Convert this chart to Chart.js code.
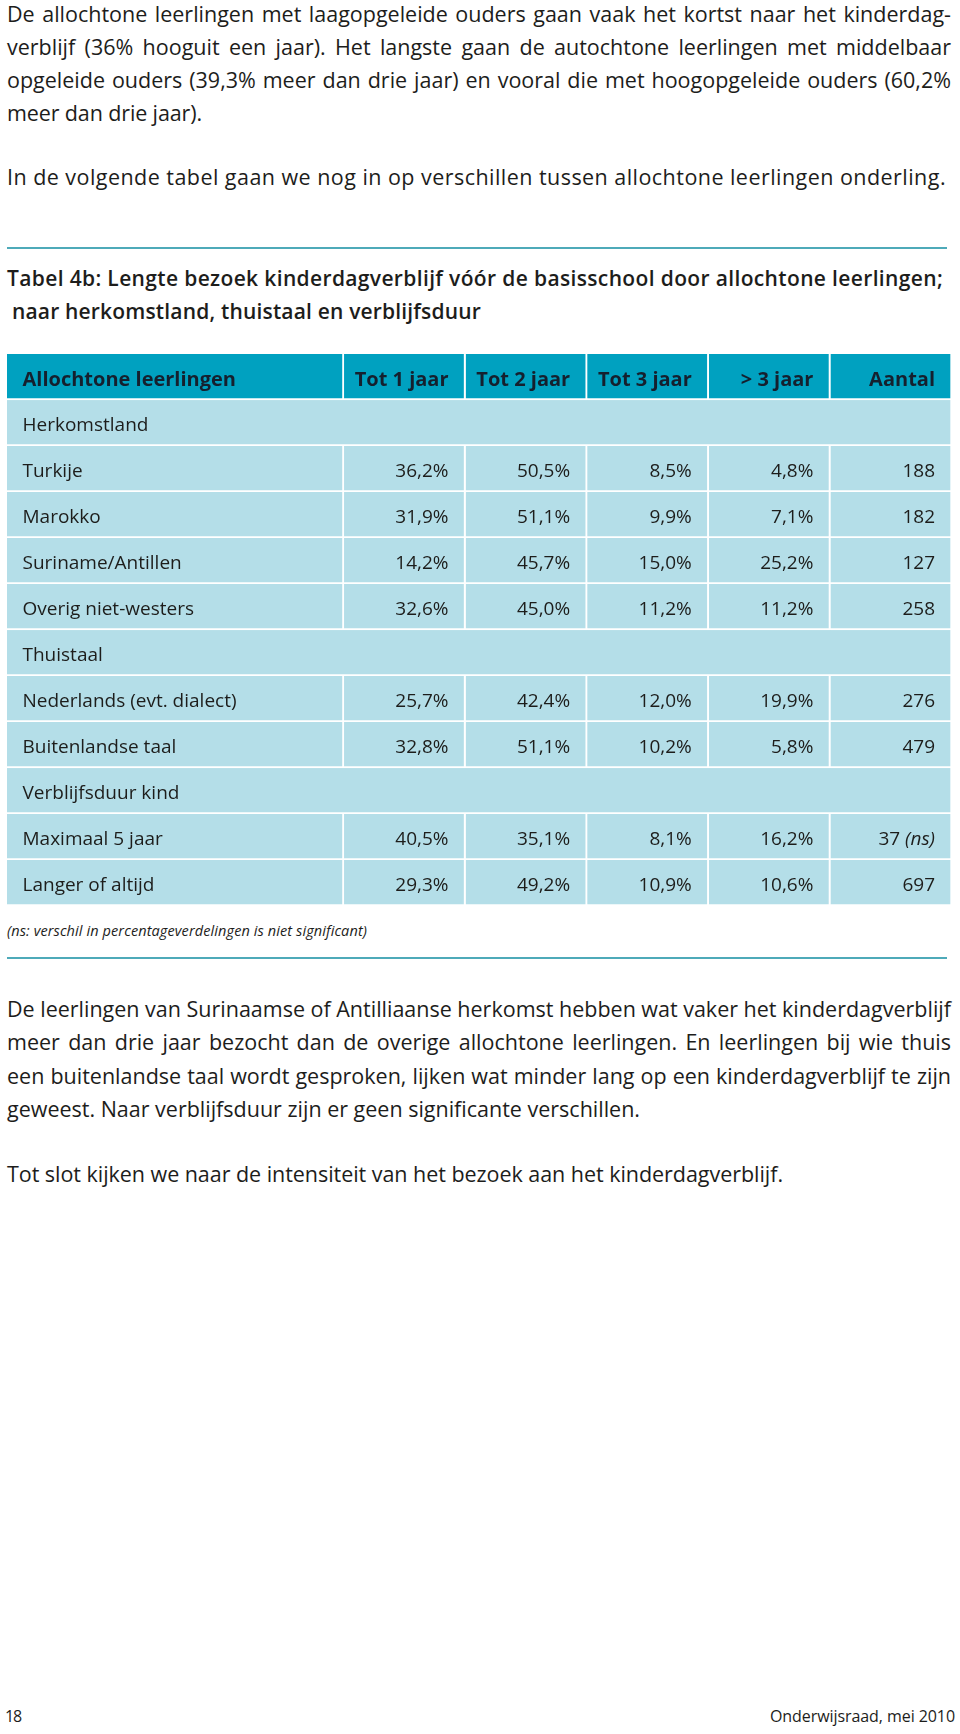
<!DOCTYPE html>
<html lang="nl">
<head>
<meta charset="utf-8">
<title>Tabel 4b</title>
<script src="https://cdn.jsdelivr.net/npm/chart.js@4.4.1/dist/chart.umd.min.js"></script>
<style>
  html, body { margin: 0; padding: 0; background: #fff; }
  body { position: relative; width: 960px; height: 1734px; overflow: hidden; font-family: "Open Sans", sans-serif; color: #1d1d1b; }
  .ln { position: absolute; white-space: nowrap; line-height: normal; display: inline-block; }
  .txt { font-size: 21.5px; }
  .ttl { font-size: 21px; font-weight: 600; }
  .note { font-size: 14.5px; font-style: italic; }
  .foot { font-size: 16px; }
  .rule { position: absolute; left: 7px; width: 940px; height: 2px; background: #4eaab9; }
  #tabel { position: absolute; left: 7px; top: 354px; width: 945px; height: 552px; }
</style>
</head>
<body>

<!-- alinea boven de tabel -->
<span class="ln txt" data-l="7" data-r="951" data-b="21.5" data-m="j">De allochtone leerlingen met laagopgeleide ouders gaan vaak het kortst naar het kinderdag-</span>
<span class="ln txt" data-l="7" data-r="951" data-b="54.8" data-m="j">verblijf (36% hooguit een jaar). Het langste gaan de autochtone leerlingen met middelbaar</span>
<span class="ln txt" data-l="7" data-r="951" data-b="88.1" data-m="j">opgeleide ouders (39,3% meer dan drie jaar) en vooral die met hoogopgeleide ouders (60,2%</span>
<span class="ln txt" data-l="7" data-r="202" data-b="121.4">meer dan drie jaar).</span>
<span class="ln txt" data-l="7" data-r="946" data-b="185">In de volgende tabel gaan we nog in op verschillen tussen allochtone leerlingen onderling.</span>

<div class="rule" style="top:247px"></div>

<span class="ln ttl" data-l="7" data-r="943" data-b="286">Tabel 4b: Lengte bezoek kinderdagverblijf vóór de basisschool door allochtone leerlingen;</span>
<span class="ln ttl" data-l="12" data-r="481" data-b="319">naar herkomstland, thuistaal en verblijfsduur</span>

<div id="tabel"><canvas id="tabelCanvas"></canvas></div>

<span class="ln note" data-l="7" data-r="367" data-b="937">(ns: verschil in percentageverdelingen is niet significant)</span>

<div class="rule" style="top:957px"></div>

<!-- alinea's onder de tabel -->
<span class="ln txt" data-l="7" data-r="951" data-b="1017" data-m="j">De leerlingen van Surinaamse of Antilliaanse herkomst hebben wat vaker het kinderdagverblijf</span>
<span class="ln txt" data-l="7" data-r="951" data-b="1050.3" data-m="j">meer dan drie jaar bezocht dan de overige allochtone leerlingen. En leerlingen bij wie thuis</span>
<span class="ln txt" data-l="7" data-r="951" data-b="1083.6" data-m="j">een buitenlandse taal wordt gesproken, lijken wat minder lang op een kinderdagverblijf te zijn</span>
<span class="ln txt" data-l="7" data-r="640" data-b="1117">geweest. Naar verblijfsduur zijn er geen significante verschillen.</span>
<span class="ln txt" data-l="7" data-r="783" data-b="1182">Tot slot kijken we naar de intensiteit van het bezoek aan het kinderdagverblijf.</span>

<span class="ln foot" data-l="5" data-r="21" data-b="1722">18</span>
<span class="ln foot" data-l="770" data-r="955" data-b="1722">Onderwijsraad, mei 2010</span>

<script>
// Gegevens tabel 4b
const columnLabels = ['Allochtone leerlingen', 'Tot 1 jaar', 'Tot 2 jaar', 'Tot 3 jaar', '> 3 jaar', 'Aantal']
const rowLabels = ['Herkomstland', 'Turkije', 'Marokko', 'Suriname/Antillen', 'Overig niet-westers',
  'Thuistaal', 'Nederlands (evt. dialect)', 'Buitenlandse taal',
  'Verblijfsduur kind', 'Maximaal 5 jaar', 'Langer of altijd']
const sectionRows = ['Herkomstland', 'Thuistaal', 'Verblijfsduur kind']
const tot1Jaar = [null, 36.2, 31.9, 14.2, 32.6, null, 25.7, 32.8, null, 40.5, 29.3]
const tot2Jaar = [null, 50.5, 51.1, 45.7, 45.0, null, 42.4, 51.1, null, 35.1, 49.2]
const tot3Jaar = [null, 8.5, 9.9, 15.0, 11.2, null, 12.0, 10.2, null, 8.1, 10.9]
const meerDan3Jaar = [null, 4.8, 7.1, 25.2, 11.2, null, 19.9, 5.8, null, 16.2, 10.6]
const aantal = [null, 188, 182, 127, 258, null, 276, 479, null, 37, 697]
const nietSignificant = ['Maximaal 5 jaar']

// Opmaak
const TEAL = '#00a1c0'
const LIGHT = '#b4dee8'
const INK = '#1d1d1b'
const HEAD_INK = '#15202e'
const colUnits = [2.77, 1, 1, 1, 1, 1]
const FONT = '"Open Sans", sans-serif'

// regels in de tekst uitvullen / passend maken
document.querySelectorAll('.ln').forEach(el => {
  const l = +el.dataset.l, r = +el.dataset.r, b = +el.dataset.b
  const fs = parseFloat(getComputedStyle(el).fontSize)
  const w = el.getBoundingClientRect().width
  const txt = el.textContent
  if (el.dataset.m === 'j') {
    const n = (txt.match(/ /g) || []).length
    el.style.wordSpacing = ((r - l - w) / n) + 'px'
  } else {
    el.style.letterSpacing = ((r - l - w) / txt.length) + 'px'
  }
  el.style.left = l + 'px'
  el.style.top = (b - 1.069 * fs) + 'px'
})

const allRows = [columnLabels[0], ...rowLabels]
const isSection = i => sectionRows.includes(allRows[i])
const edges = colUnits.reduce((acc, u) => { acc.push(acc[acc.length - 1] + u); return acc }, [0])
const xMax = edges[edges.length - 1]

const pct = v => v.toFixed(1).replace('.', ',') + '%'
function cellTexts(i) {
  if (i === 0) return columnLabels
  const k = i - 1
  if (isSection(i)) return [rowLabels[k]]
  return [rowLabels[k], pct(tot1Jaar[k]), pct(tot2Jaar[k]), pct(tot3Jaar[k]), pct(meerDan3Jaar[k]), String(aantal[k])]
}

const cellStyle = {
  barPercentage: 1,
  categoryPercentage: 1,
  grouped: false,
  borderSkipped: false,
  borderColor: '#ffffff',
  borderWidth: { top: 0, left: 0, right: 2, bottom: 2 },
  backgroundColor: ctx => ctx.dataIndex === 0 ? TEAL : LIGHT,
}

const datasets = columnLabels.map((c, j) => ({
  label: c,
  data: allRows.map((r, i) => isSection(i) ? null : [edges[j], edges[j + 1]]),
  ...cellStyle,
}))
datasets.push({
  label: 'sectie',
  data: allRows.map((r, i) => isSection(i) ? [0, xMax] : null),
  ...cellStyle,
})

const tableText = {
  id: 'tableText',
  afterDatasetsDraw(chart) {
    const { ctx, scales: { x, y } } = chart
    ctx.save()
    allRows.forEach((r, i) => {
      const texts = cellTexts(i)
      const head = i === 0
      const fs = head ? 20 : 19
      const base = y.getPixelForValue(i) + 0.36 * fs + 1.5
      ctx.fillStyle = head ? HEAD_INK : INK
      ctx.font = (head ? '700 ' : '400 ') + fs + 'px ' + FONT
      texts.forEach((t, j) => {
        if (j === 0) {
          ctx.textAlign = 'left'
          ctx.fillText(t, x.getPixelForValue(edges[0]) + 15.5, base)
          return
        }
        const right = x.getPixelForValue(edges[j + 1]) - 17
        ctx.textAlign = 'right'
        if (j === 5 && !head && nietSignificant.includes(allRows[i])) {
          ctx.font = 'italic 400 ' + fs + 'px ' + FONT
          const ns = '(ns)'
          const w = ctx.measureText(ns).width
          ctx.fillText(ns, right, base)
          ctx.font = '400 ' + fs + 'px ' + FONT
          ctx.fillText(t + ' ', right - w, base)
        } else {
          ctx.fillText(t, right, base)
        }
      })
    })
    ctx.restore()
  }
}

new Chart(document.getElementById('tabelCanvas'), {
  type: 'bar',
  data: { labels: allRows, datasets },
  options: {
    indexAxis: 'y',
    responsive: true,
    maintainAspectRatio: false,
    animation: false,
    events: [],
    layout: { padding: 0 },
    plugins: { legend: { display: false }, tooltip: { enabled: false } },
    scales: {
      x: { type: 'linear', min: 0, max: xMax, display: false },
      y: { type: 'category', display: false, offset: true },
    },
  },
  plugins: [tableText],
})
</script>
</body>
</html>
